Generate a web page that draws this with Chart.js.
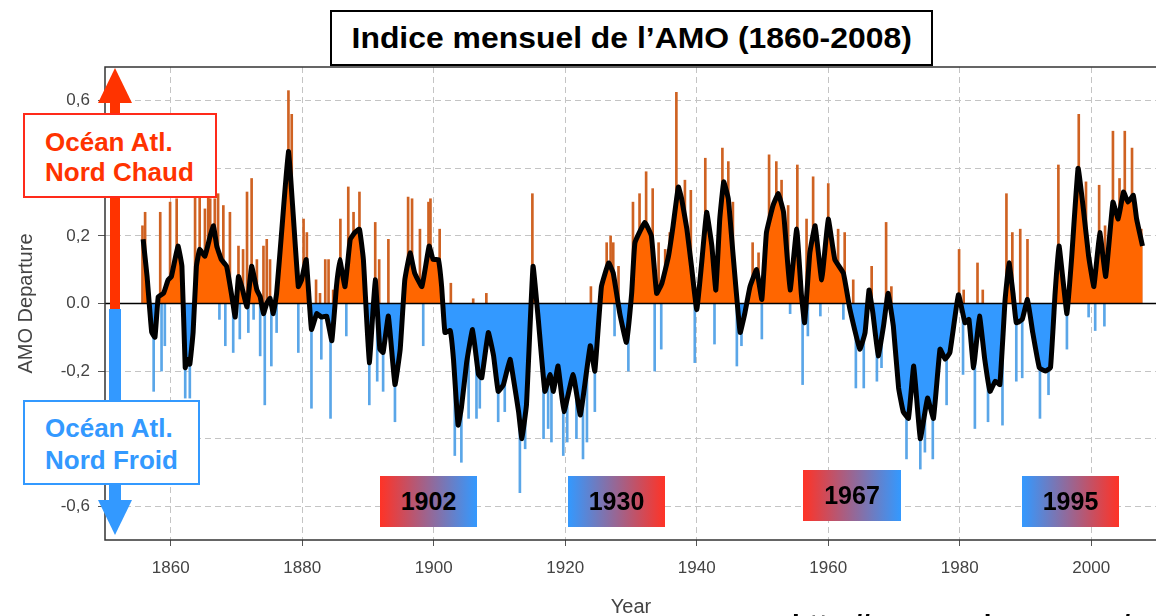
<!DOCTYPE html>
<html lang="fr">
<head>
<meta charset="utf-8">
<title>Indice mensuel de l’AMO (1860-2008)</title>
<script src="https://cdn.jsdelivr.net/npm/chart.js@4.4.0/dist/chart.umd.min.js"></script>
<style>
  html, body { margin: 0; padding: 0; background: #fff; overflow: hidden; }
  #wrap { position: relative; width: 1156px; height: 616px; overflow: hidden;
          font-family: "Liberation Sans", Arial, sans-serif; }
  #chart { position: absolute; left: 0; top: 0; }
  .box { position: absolute; background: #fff; box-sizing: border-box; }
  .title { left: 330px; top: 10px; width: 603px; height: 56px; border: 2px solid #000;
           font-weight: bold; font-size: 29px; line-height: 52px; text-align: center; }
  .title span { display: inline-block; transform: scaleX(1.1); }
  .side { font-weight: bold; font-size: 26px; padding-left: 20px; }
  .warm { left: 23px; top: 113px; width: 194px; height: 85px; border: 2px solid #ff2a1a;
          color: #ff3300; line-height: 30px; padding-top: 12px; }
  .cold { left: 23px; top: 400px; width: 177px; height: 85px; border: 2px solid #3399ff;
          color: #3399ff; line-height: 32px; padding-top: 10px; }
  .shaft { position: absolute; }
  .head { position: absolute; width: 0; height: 0; border-left: 17px solid transparent;
          border-right: 17px solid transparent; }
  .year { position: absolute; width: 97px; height: 51px; font-weight: bold; font-size: 25px;
          line-height: 51px; text-align: center; color: #000; }
  .r2b { background: linear-gradient(to right, #ff3326, #3399ff); }
  .b2r { background: linear-gradient(to right, #3399ff, #ff3326); }
  .url { position: absolute; left: 792px; top: 611px; font-size: 28px; line-height: 28px;
         font-weight: bold; white-space: nowrap; color: #000; }
</style>
</head>
<body>
<div id="wrap">
  <canvas id="chart" width="1158" height="619"></canvas>

  <div class="shaft" style="left:110px; top:102px; width:10px; height:207px; background:#ff3300;"></div>
  <div class="head" style="left:98px; top:68px; border-bottom:35px solid #ff3300;"></div>
  <div class="shaft" style="left:109px; top:309px; width:12px; height:192px; background:#3399ff;"></div>
  <div class="head" style="left:98px; top:500px; border-top:35px solid #3399ff;"></div>

  <div class="box title"><span>Indice mensuel de l’AMO (1860-2008)</span></div>
  <div class="box side warm">Océan Atl.<br>Nord Chaud</div>
  <div class="box side cold">Océan Atl.<br>Nord Froid</div>

  <div class="year r2b" style="left:380px; top:476px;">1902</div>
  <div class="year b2r" style="left:568px; top:476px;">1930</div>
  <div class="year r2b" style="left:803px; top:470px; width:98px;">1967</div>
  <div class="year b2r" style="left:1022px; top:476px;">1995</div>

  <div class="url">http://www.esrl.noaa.gov/psd/data/</div>
</div>

<script>
// smoothed AMO index (black curve)
const smoothYears = [
  1855.8, 1856.4, 1857.1, 1857.6, 1858.1, 1858.9, 1859.6, 1860.1, 1861.1, 1861.7,
  1862.2, 1862.5, 1862.9, 1863.4, 1863.9, 1864.4, 1865.2, 1866.0, 1866.5, 1867.0,
  1867.7, 1868.5, 1869.3, 1869.8, 1870.3, 1870.8, 1871.6, 1872.3, 1873.1, 1873.6,
  1874.1, 1874.6, 1875.1, 1875.6, 1876.1, 1876.9, 1877.9, 1878.6, 1879.4, 1879.9,
  1880.6, 1881.4, 1882.2, 1882.9, 1883.7, 1884.5, 1885.2, 1885.7, 1886.5, 1887.3,
  1888.0, 1888.7, 1889.3, 1890.2, 1891.1, 1891.8, 1892.3, 1893.1, 1894.1, 1894.9,
  1895.6, 1896.4, 1897.1, 1898.2, 1899.3, 1899.9, 1900.7, 1901.2, 1901.7, 1902.5,
  1903.0, 1903.7, 1904.2, 1905.0, 1905.9, 1906.8, 1907.3, 1908.3, 1909.1, 1909.8,
  1910.6, 1911.6, 1912.1, 1912.9, 1913.4, 1914.1, 1915.1, 1915.9, 1916.9, 1917.7,
  1918.2, 1918.9, 1919.8, 1921.2, 1922.3, 1923.8, 1924.5, 1925.5, 1926.6, 1927.3,
  1928.3, 1929.3, 1930.1, 1930.6, 1932.1, 1933.1, 1933.9, 1934.7, 1935.7, 1936.4,
  1937.2, 1937.7, 1938.5, 1939.2, 1940.0, 1940.7, 1941.5, 1942.3, 1942.9, 1943.5,
  1944.1, 1944.8, 1945.5, 1946.6, 1947.3, 1948.1, 1949.1, 1949.9, 1950.6, 1951.6,
  1952.4, 1953.2, 1954.2, 1955.2, 1955.9, 1956.4, 1957.2, 1958.0, 1959.0, 1960.0,
  1961.0, 1962.3, 1963.3, 1964.8, 1965.6, 1966.2, 1966.8, 1967.6, 1968.4, 1969.1,
  1969.9, 1970.7, 1971.4, 1972.2, 1973.0, 1974.0, 1975.1, 1976.0, 1977.0, 1977.8,
  1978.5, 1979.8, 1980.8, 1981.4, 1982.1, 1983.0, 1983.8, 1984.6, 1985.4, 1986.1,
  1986.9, 1987.5, 1988.1, 1988.6, 1989.5, 1990.3, 1991.1, 1992.1, 1993.0, 1993.8,
  1994.5, 1995.1, 1995.7, 1996.3, 1997.0, 1998.0, 1998.8, 1999.6, 2000.4, 2001.3,
  2002.2, 2003.3, 2004.1, 2004.9, 2005.6, 2006.4, 2006.9, 2007.8
];
const smoothValues = [
  0.19, 0.08, -0.085, -0.10, 0.02, 0.03, 0.07, 0.08, 0.17, 0.11,
  -0.19, -0.165, -0.18, -0.085, 0.11, 0.16, 0.14, 0.20, 0.23, 0.17,
  0.13, 0.11, 0.02, -0.04, 0.08, 0.05, -0.01, 0.11, 0.04, 0.02,
  -0.03, 0.0, 0.015, -0.03, 0.03, 0.22, 0.45, 0.27, 0.05, 0.07,
  0.13, -0.077, -0.03, -0.04, -0.037, -0.11, 0.05, 0.13, 0.05, 0.19,
  0.21, 0.22, 0.13, -0.175, 0.07, -0.135, -0.145, -0.037, -0.24, -0.135,
  0.07, 0.15, 0.09, 0.05, 0.17, 0.13, 0.13, 0.05, -0.086, -0.08,
  -0.165, -0.36, -0.31, -0.175, -0.077, -0.21, -0.22, -0.086, -0.155, -0.26,
  -0.24, -0.165, -0.22, -0.32, -0.40, -0.30, 0.11, -0.047, -0.26, -0.21,
  -0.26, -0.185, -0.32, -0.21, -0.33, -0.125, -0.20, 0.05, 0.12, 0.09,
  -0.03, -0.115, 0.03, 0.18, 0.24, 0.20, 0.03, 0.06, 0.14, 0.23,
  0.345, 0.31, 0.22, 0.11, -0.018, 0.11, 0.27, 0.17, 0.04, 0.25,
  0.36, 0.31, 0.15, -0.086, -0.03, 0.05, 0.10, 0.012, 0.21, 0.29,
  0.325, 0.27, 0.04, 0.22, 0.03, -0.057, 0.15, 0.23, 0.07, 0.25,
  0.13, 0.09, -0.018, -0.135, -0.086, 0.04, -0.03, -0.155, -0.067, 0.03,
  -0.067, -0.25, -0.32, -0.34, -0.185, -0.40, -0.28, -0.34, -0.135, -0.165,
  -0.145, 0.026, -0.057, -0.047, -0.19, -0.037, -0.165, -0.26, -0.23, -0.24,
  0.012, 0.12, 0.03, -0.057, -0.047, 0.012, -0.086, -0.19, -0.20, -0.19,
  0.03, 0.17, 0.07, -0.03, 0.13, 0.40, 0.28, 0.14, 0.05, 0.21,
  0.08, 0.30, 0.25, 0.33, 0.30, 0.32, 0.25, 0.17
];

// monthly extremes (thin spikes)
const spikeYears = [
  1855.7, 1856.1, 1857.4, 1858.4, 1858.6, 1859.1, 1859.9, 1860.9, 1862.2, 1862.9,
  1863.7, 1864.4, 1865.2, 1865.7, 1866.0, 1866.7, 1867.2, 1867.4, 1868.0, 1868.3,
  1869.0, 1869.5, 1870.3, 1870.5, 1871.0, 1871.6, 1871.8, 1872.3, 1872.6, 1873.1,
  1873.6, 1874.1, 1874.3, 1874.6, 1875.1, 1875.3, 1876.1, 1877.9, 1878.4, 1879.4,
  1880.2, 1880.7, 1881.4, 1882.1, 1882.7, 1882.9, 1883.5, 1884.0, 1884.3, 1884.7,
  1885.8, 1886.7, 1887.0, 1887.8, 1888.7, 1890.2, 1891.1, 1891.4, 1891.7, 1892.3,
  1893.1, 1894.1, 1896.1, 1896.7, 1897.9, 1898.4, 1899.2, 1899.5, 1900.9, 1902.6,
  1903.2, 1904.2, 1905.3, 1906.0, 1906.5, 1907.0, 1908.0, 1909.8, 1910.8, 1913.1,
  1913.9, 1915.0, 1916.7, 1917.4, 1917.9, 1919.7, 1920.3, 1921.7, 1922.7, 1923.3,
  1923.9, 1924.5, 1926.3, 1926.9, 1927.3, 1927.5, 1928.1, 1929.6, 1930.3, 1931.3,
  1932.3, 1933.3, 1933.6, 1934.2, 1934.6, 1935.2, 1935.9, 1936.9, 1938.2, 1939.1,
  1939.7, 1941.3, 1942.7, 1943.9, 1944.8, 1945.5, 1946.1, 1946.8, 1948.5, 1949.4,
  1949.9, 1951.0, 1952.1, 1952.9, 1953.9, 1954.2, 1955.3, 1956.1, 1956.7, 1956.9,
  1957.7, 1958.8, 1960.0, 1961.5, 1962.3, 1962.5, 1963.8, 1964.2, 1965.4, 1966.6,
  1967.4, 1968.1, 1968.8, 1969.6, 1971.9, 1974.0, 1974.7, 1975.9, 1978.0, 1979.9,
  1980.5, 1980.6, 1982.3, 1982.7, 1983.5, 1984.3, 1986.5, 1987.1, 1988.0, 1988.6,
  1989.2, 1989.5, 1990.3, 1992.2, 1993.5, 1995.0, 1996.3, 1998.1, 1999.2, 1999.6,
  2000.6, 2001.2, 2002.0, 2002.1, 2003.3, 2004.3, 2005.1, 2006.2, 2007.6
];
const spikeValues = [
  0.23, 0.27, -0.26, 0.27, -0.20, -0.125, 0.30, 0.31, -0.28, -0.28,
  0.37, 0.39, 0.28, 0.39, 0.31, 0.31, 0.325, -0.047, 0.29, -0.125,
  0.27, -0.145, 0.17, -0.105, 0.16, 0.33, -0.086, 0.37, -0.047, 0.13,
  -0.155, 0.17, -0.30, 0.19, 0.13, -0.185, -0.086, 0.63, 0.56, -0.145,
  0.25, 0.21, -0.31, 0.07, 0.03, -0.165, 0.13, 0.13, -0.34, 0.04,
  0.25, -0.096, 0.345, 0.27, 0.33, -0.30, 0.24, -0.23, 0.13, -0.26,
  0.19, -0.35, 0.315, 0.31, 0.22, -0.125, 0.30, 0.31, 0.22, 0.06,
  -0.45, -0.47, -0.34, 0.014, -0.34, -0.31, 0.03, -0.35, -0.32, -0.56,
  -0.43, 0.325, -0.40, -0.37, -0.41, -0.45, -0.41, -0.40, -0.46, -0.41,
  0.05, -0.32, 0.18, 0.20, 0.18, -0.096, 0.11, -0.20, 0.30, 0.325,
  0.39, 0.34, -0.20, 0.18, -0.135, 0.16, 0.21, 0.625, 0.365, 0.335,
  -0.175, 0.43, -0.12, 0.46, 0.42, 0.30, -0.185, -0.125, 0.18, 0.15,
  -0.105, 0.44, 0.42, 0.365, 0.29, -0.03, 0.41, -0.24, 0.25, -0.096,
  0.375, -0.037, 0.355, 0.22, -0.047, 0.21, 0.07, -0.25, -0.25, 0.11,
  -0.23, -0.19, 0.24, 0.05, -0.46, -0.49, -0.44, -0.46, -0.30, 0.16,
  -0.21, 0.04, -0.37, 0.12, 0.04, -0.35, -0.36, 0.325, 0.21, -0.23,
  0.22, -0.22, 0.19, -0.34, -0.27, 0.41, -0.135, 0.56, 0.36, -0.04,
  -0.08, 0.35, -0.067, 0.23, 0.51, 0.37, 0.51, 0.46, 0.22
];

const yearTicks = [1860, 1880, 1900, 1920, 1940, 1960, 1980, 2000];
const valueTicks = [-0.6, -0.4, -0.2, 0, 0.2, 0.4, 0.6];
const valueTickLabels = ['-0,6', '', '-0,2', '0.0', '0,2', '', '0,6'];

const WARM = '#ff6600';
const COLD = '#3399ff';

const smoothPoints = smoothYears.map((x, i) => ({x, y: smoothValues[i]}));
const spikePoints = spikeYears.map((x, i) => ({x, y: spikeValues[i]}));

// plot frame (R style box around the panel)
const framePlugin = {
    id: 'frame',
    afterDraw(chart) {
        const {ctx, chartArea: a} = chart;
        ctx.save();
        ctx.strokeStyle = '#333';
        ctx.lineWidth = 1.5;
        ctx.strokeRect(a.left, a.top, a.right - a.left, a.bottom - a.top);
        ctx.restore();
    },
};

const tickFont = {family: '"Liberation Sans", Arial, sans-serif', size: 17};

new Chart(document.getElementById('chart'), {
    type: 'bar',
    data: {
        datasets: [
            {
                type: 'line',
                label: 'zero',
                data: [{x: 1850, y: 0}, {x: 2010, y: 0}],
                borderColor: '#000',
                borderWidth: 1.5,
                pointRadius: 0,
                order: 1,
            },
            {
                type: 'line',
                label: 'AMO lissé',
                data: smoothPoints,
                borderColor: '#000',
                borderWidth: 5,
                tension: 0.1,
                pointRadius: 0,
                fill: {target: 'origin', above: WARM, below: COLD},
                order: 2,
            },
            {
                label: 'AMO mensuel',
                data: spikePoints,
                backgroundColor: (c) => (c.raw && c.raw.y >= 0 ? '#cf6222' : '#5aa6e8'),
                barThickness: 2,
                grouped: false,
                order: 3,
            },
        ],
    },
    options: {
        responsive: false,
        animation: false,
        devicePixelRatio: 1,
        layout: {padding: {top: 67, right: 1, left: 0, bottom: 0}},
        plugins: {legend: {display: false}, tooltip: {enabled: false}},
        scales: {
            x: {
                type: 'linear',
                min: 1850,
                max: 2010,
                offset: false,
                afterBuildTicks: (s) => { s.ticks = yearTicks.map((v) => ({value: v})); },
                afterFit: (s) => { s.height = 79; },
                ticks: {
                    font: tickFont,
                    color: '#444',
                    padding: 12,
                    maxRotation: 0,
                    callback: (v) => String(v),
                },
                grid: {color: '#c4c4c4', offset: false, tickLength: 6, tickColor: '#555'},
                border: {display: false, dash: [6, 4]},
                title: {
                    display: true,
                    text: 'Year',
                    font: {...tickFont, size: 20},
                    color: '#444',
                    padding: {top: 0, bottom: 0},
                },
            },
            y: {
                min: -0.7,
                max: 0.7,
                afterBuildTicks: (s) => { s.ticks = valueTicks.map((v) => ({value: v})); },
                afterFit: (s) => { s.width = 105; },
                ticks: {
                    font: tickFont,
                    color: '#444',
                    padding: 8,
                    callback: (v, i) => valueTickLabels[i],
                },
                grid: {color: '#c4c4c4', tickLength: 7, tickColor: '#555'},
                border: {display: false, dash: [6, 4]},
                title: {
                    display: true,
                    text: 'AMO Departure',
                    font: {...tickFont, size: 20},
                    color: '#444',
                    padding: {top: 14, bottom: 0},
                },
            },
        },
    },
    plugins: [framePlugin],
});
</script>
</body>
</html>
